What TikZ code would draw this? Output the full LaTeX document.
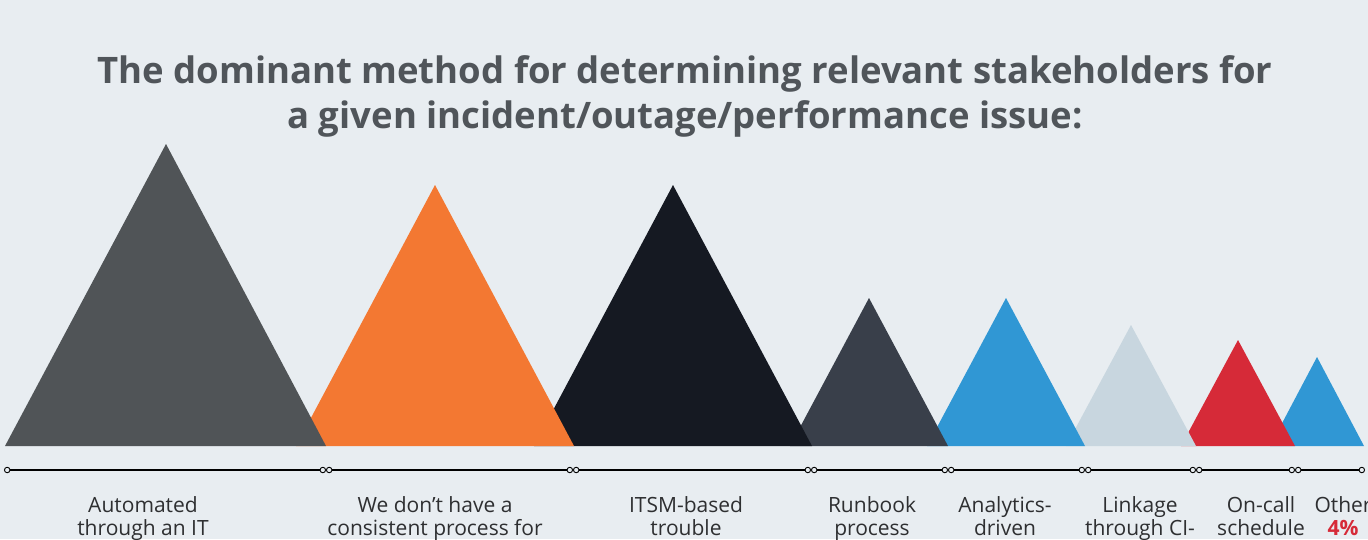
\documentclass[tikz,border=0pt]{standalone}
\usepackage{fontspec}
\setmainfont{Open Sans}
\usetikzlibrary{arrows.meta}

\definecolor{bgpaper}{HTML}{E8EDF1}
\definecolor{titlegray}{HTML}{50555A}
\definecolor{labelink}{HTML}{2E2F31}
\definecolor{pkgray}{HTML}{505457}
\definecolor{pkorange}{HTML}{F37832}
\definecolor{pkblack}{HTML}{151922}
\definecolor{pkslate}{HTML}{393F4A}
\definecolor{pkblue}{HTML}{3097D4}
\definecolor{pkmist}{HTML}{C8D6DF}
\definecolor{pkred}{HTML}{D62A38}

\tikzset{
  peak/.style={fill=#1, draw=none},
  ring/.tip={Circle[open, length=6.4pt, width=6.4pt, line width=0.9pt, fill=bgpaper]},
  seg/.style={line width=1.1pt, black, ring-ring},
  lbl/.style={anchor=base, align=center, text=labelink, inner sep=0pt,
    font=\fontsize{21}{22.5}\selectfont},
  ttl/.style={anchor=base, align=center, text=titlegray, inner sep=0pt,
    font=\fontsize{36.5}{45}\selectfont\bfseries},
}

\begin{document}
\begin{tikzpicture}[x=1pt, y=-1pt]
  \useasboundingbox (0,0) rectangle (1368,539);
  \clip (0,0) rectangle (1368,539);
  \fill[bgpaper] (0,0) rectangle (1368,539);

  % title (base anchor sits on the last line)
  \node[ttl] (title) at (685,128) {The dominant method for determining relevant stakeholders for\\a given incident/outage/performance issue:};

  % peaks, drawn right to left so each one overlaps its right neighbour
  \fill[peak=pkblue]   (1270,446) -- (1317,357) -- (1364,446) -- cycle;
  \fill[peak=pkred]    (1181,446) -- (1238,340) -- (1295,446) -- cycle;
  \fill[peak=pkmist]   (1066,446) -- (1131,325) -- (1196,446) -- cycle;
  \fill[peak=pkblue]   (927,446)  -- (1006,298) -- (1085,446) -- cycle;
  \fill[peak=pkslate]  (790,446)  -- (869,298)  -- (948,446)  -- cycle;
  \fill[peak=pkblack]  (534,446)  -- (673,185)  -- (812,446)  -- cycle;
  \fill[peak=pkorange] (296,446)  -- (435,185)  -- (574,446)  -- cycle;
  \fill[peak=pkgray]   (5,446)    -- (166,144)  -- (326,446)  -- cycle;

  % timeline ticks
  \coordinate (t0) at (4,470);
  \coordinate (t1) at (326,470);
  \coordinate (t2) at (573,470);
  \coordinate (t3) at (811,470);
  \coordinate (t4) at (948,470);
  \coordinate (t5) at (1085,470);
  \coordinate (t6) at (1196,470);
  \coordinate (t7) at (1295,470);
  \coordinate (t8) at (1365,470);
  \foreach \a/\b in {t0/t1,t1/t2,t2/t3,t3/t4,t4/t5,t5/t6,t6/t7,t7/t8}
    \draw[seg] (\a) -- (\b);

  % category labels (base anchor sits on the second line)
  \node[lbl] (l1) at (143,535)  {Automated\\through an IT};
  \node[lbl] (l2) at (435,535)  {We don’t have a\\consistent process for};
  \node[lbl] (l3) at (686,535)  {ITSM-based\\trouble};
  \node[lbl] (l4) at (872,535)  {Runbook\\process};
  \node[lbl] (l5) at (1005,535) {Analytics-\\driven};
  \node[lbl] (l6) at (1140,535) {Linkage\\through CI-};
  \node[lbl] (l7) at (1261,535) {On-call\\schedule};
  \node[lbl] (l8) at (1343,535) {Other\\{\bfseries\color{pkred}4\%}};
\end{tikzpicture}
\end{document}
